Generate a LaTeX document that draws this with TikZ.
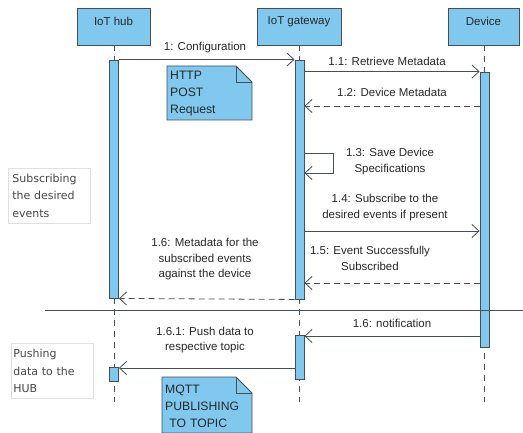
\documentclass[tikz,border=0pt]{standalone}
\usepackage{fontspec}
\setmainfont{Liberation Sans}
\newfontfamily\sidefont{DejaVu Sans}
\usetikzlibrary{arrows.meta,backgrounds}
\definecolor{boxfill}{RGB}{128,200,238}
\definecolor{edge}{RGB}{70,78,88}
\definecolor{txt}{RGB}{40,40,40}
\tikzset{
  every node/.style={font=\fontsize{11.5}{15.5}\selectfont, text=txt},
  hdr/.style={draw=edge, fill=boxfill, line width=0.9pt, inner sep=0pt},
  bar/.style={draw=edge, fill=boxfill, line width=0.9pt, inner sep=0pt, minimum width=9pt},
  life/.style={draw=edge, line width=0.8pt, dash pattern=on 6pt off 5pt},
  msg/.style={draw=edge, line width=0.8pt, -{Straight Barb[length=7pt,width=13pt]}},
  reply/.style={msg, dash pattern=on 6pt off 4pt},
  lbl/.style={align=center, inner sep=0pt},
  notebox/.style={align=left, inner sep=0pt, anchor=north west, text width=84pt,
    font=\fontsize{12.2}{17}\selectfont},
  notefill/.style={draw=edge, fill=boxfill, line width=0.8pt},
  sidebox/.style={draw=black!12, fill=white, line width=0.8pt, anchor=north west,
    align=left, inner sep=0pt, text width=82pt, minimum height=55pt,
    font=\sidefont\fontsize{11}{17.5}\selectfont, text=black!72}
}
\begin{document}
\begin{tikzpicture}[x=1pt, y=-1pt]
\useasboundingbox (0,0) rectangle (523,433);

% lifeline heads
\node (hub) [hdr, minimum width=73pt, minimum height=37pt] at (113.5,26.5) {};
\node (hubT) [anchor=north, inner sep=0pt] at ([yshift=-9pt]hub.north) {IoT hub};
\node (gw)  [hdr, minimum width=84pt, minimum height=37pt] at (299,26.5) {};
\node (gwT) [anchor=north, inner sep=0pt] at ([yshift=-9pt]gw.north) {IoT gateway};
\node (dev) [hdr, minimum width=71pt, minimum height=37pt] at (483.5,26.5) {};
\node (devT) [anchor=north, inner sep=0pt] at ([yshift=-9pt]dev.north) {Device};

% lifelines
\coordinate (hubEnd) at (114,402);
\coordinate (gwEnd) at (299.5,402);
\coordinate (devEnd) at (484.5,402);
\draw[life] (hub.south -| hubEnd) -- (hubEnd);
\draw[life] (gw.south -| gwEnd) -- (gwEnd);
\draw[life] (dev.south -| devEnd) -- (devEnd);

% activation bars
\node (hubA) [bar, minimum height=238pt] at (114,179) {};
\node (gwA)  [bar, minimum height=239pt] at (299.5,179.5) {};
\node (devA) [bar, minimum height=275pt] at (484.5,209.5) {};
\node (gwB)  [bar, minimum height=44pt]  at (299.5,357) {};
\node (hubB) [bar, minimum height=14pt]  at (114,374) {};

% separator
\coordinate (sepL) at (45,310);
\coordinate (sepR) at (523,310);
\draw[edge, line width=0.8pt] (sepL) -- (sepR);

% messages
\draw[msg] (hubA.north east) -- (gwA.north west);
\node (m1) [lbl] at (205,48) {1: Configuration};

\draw[msg] (gwA.east |- devA.north) -- (devA.north west);
\node (m11) [lbl] at (387,61) {1.1: Retrieve Metadata};

\draw[reply] (devA.west |- 0,106) -- (gwA.east |- 0,106);
\node (m12) [lbl] at (392,92) {1.2: Device Metadata};

\coordinate (selfR) at (333,153);
\draw[msg] (gwA.east |- selfR) -- (selfR) -- (selfR |- 0,173) -- (gwA.east |- 0,173);
\node (m13) [lbl] at (390,161.5) {1.3: Save Device\\Specifications};

\draw[msg] (gwA.east |- 0,231) -- (devA.west |- 0,231);
\node (m14) [lbl] at (385,207.5) {1.4: Subscribe to the\\desired events if present};

\draw[reply] (devA.west |- 0,283) -- (gwA.east |- 0,283);
\node (m15) [lbl] at (370,258.5) {1.5: Event Successfully\\Subscribed};

\draw[reply] (gwA.south west) -- (hubA.south east);
\node (m16) [lbl] at (205,259.5) {1.6: Metadata for the\\subscribed events\\against the device};

\draw[msg] (devA.west |- 0,336) -- (gwB.east |- 0,336);
\node (m16n) [lbl] at (392,323) {1.6: notification};

\draw[msg] (gwB.west |- 0,368) -- (hubB.east |- 0,368);
\node (m161) [lbl] at (205,340) {1.6.1: Push data to\\respective topic};

% notes with a folded corner
\node (http) [notebox] at (170,71) {HTTP\\POST\\Request};
\node (mqtt) [notebox] at (165,385) {MQTT\\PUBLISHING\\\ TO TOPIC};
\begin{scope}[on background layer]
  \coordinate (hA) at (167,66);  \coordinate (hB) at (252,120);
  \path (hB |- hA) ++(-16,0) coordinate (hF) ++(16,16) coordinate (hG);
  \draw[notefill] (hA) -- (hF) -- (hG) -- (hB) -- (hA |- hB) -- cycle;
  \draw[edge, line width=0.8pt] (hF) |- (hG);
  \coordinate (qA) at (162,377);  \coordinate (qB) at (252,433);
  \path (qB |- qA) ++(-16,0) coordinate (qF) ++(16,16) coordinate (qG);
  \draw[notefill] (qA) -- (qF) -- (qG) -- (qB) -- (qA |- qB) -- cycle;
  \draw[edge, line width=0.8pt] (qF) |- (qG);
\end{scope}

% side notes
\node (subs) [sidebox] at (8,168) {\hspace*{4pt}\parbox[c]{76pt}{Subscribing\\the desired\\events}};
\node (push) [sidebox] at (11,343) {\hspace*{2pt}\parbox[c]{78pt}{Pushing\\data to the\\HUB}};
\end{tikzpicture}
\end{document}
